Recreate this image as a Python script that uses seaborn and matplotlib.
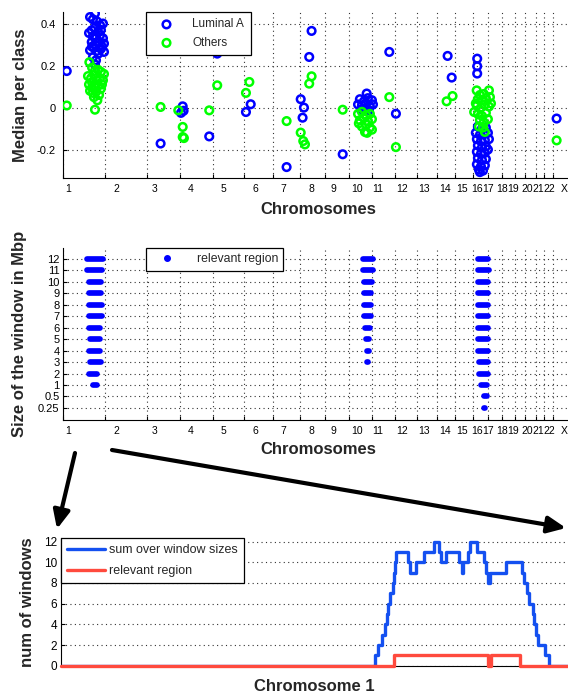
import numpy as np
import pandas as pd
import matplotlib
matplotlib.use("Agg")
import matplotlib.pyplot as plt
import seaborn as sns
from matplotlib.patches import FancyArrowPatch
from matplotlib.lines import Line2D
from matplotlib.ticker import FixedLocator, NullFormatter, FixedFormatter

# ---------------- data ----------------
chrom_names = ['1', '2', '3', '4', '5', '6', '7', '8', '9', '10', '11', '12', '13',
               '14', '15', '16', '17', '18', '19', '20', '21', '22', 'X']
chrom_len = [249.25, 243.20, 198.02, 191.15, 180.92, 171.12, 159.14, 146.36, 141.21,
             135.53, 135.01, 133.85, 115.17, 107.35, 102.53, 90.35, 81.20, 78.08,
             59.13, 63.03, 48.13, 51.30, 155.27]
chrom_label_pos = [29, 312, 541, 753, 941, 1129, 1294, 1464, 1588, 1729, 1852, 1993,
                   2123, 2246, 2346, 2434, 2499, 2581, 2646, 2728, 2793, 2858, 2946]

# Median per class (genome position in Mbp, median value)
lumA_pos = [22, 907, 574, 704, 709, 694, 860, 1076, 1104, 1315, 1462, 1448, 1398, 1417,
            1409, 1645, 1919, 1958, 2262, 2286, 2903,
            188, 159, 176, 200, 218, 235, 169, 188, 206, 223, 153, 176, 194, 218, 235,
            169, 188, 212, 241, 159, 182, 208, 223, 241, 176, 194, 188, 171, 200, 229,
            1786, 1746, 1770, 1793, 1817, 1735, 1758, 1782, 1805, 1823, 1752, 1776, 1799,
            2436, 2436, 2436,
            2440, 2464, 2487, 2428, 2452, 2475, 2499, 2434, 2458, 2481, 2505, 2440, 2464,
            2487, 2434, 2458, 2481, 2499, 2440, 2464, 2487, 2434, 2458, 2481, 2452, 2470,
            2446]
lumA_med = [0.174, 0.257, -0.171, 0.006, -0.015, -0.025, -0.137, -0.021, 0.016, -0.283,
            0.365, 0.241, 0.040, 0.000, -0.048, -0.222, 0.265, -0.029, 0.246, 0.143, -0.052,
            0.448, 0.431, 0.42, 0.41, 0.392, 0.40, 0.368, 0.38, 0.36, 0.37, 0.355, 0.34,
            0.33, 0.345, 0.33, 0.312, 0.30, 0.31, 0.305, 0.273, 0.285, 0.257, 0.28, 0.265,
            0.24, 0.225, 0.205, 0.29, 0.27, 0.29,
            0.067, 0.04, 0.03, 0.045, 0.035, 0.015, 0.01, 0.02, 0.005, 0.015, -0.01,
            -0.005, -0.012,
            0.233, 0.197, 0.162,
            -0.09, -0.10, -0.095, -0.12, -0.13, -0.125, -0.12, -0.15, -0.16, -0.155, -0.15,
            -0.18, -0.19, -0.185, -0.21, -0.22, -0.215, -0.20, -0.24, -0.25, -0.245, -0.27,
            -0.28, -0.275, -0.307, -0.30, -0.295]
others_pos = [22, 574, 678, 704, 704, 711, 860, 907, 1076, 1096, 1315, 1462, 1448, 1398,
              1413, 1423, 1645, 1919, 1958, 2256, 2291, 2903,
              155, 171, 188, 206, 223, 241, 147, 165, 182, 200, 218, 235, 153, 171, 188,
              206, 223, 159, 176, 194, 212, 202, 182, 188, 171, 229,
              1735, 1758, 1782, 1805, 1746, 1770, 1793, 1817, 1758, 1782, 1805, 1776, 1817,
              1740, 1788,
              2433, 2505, 2452, 2475, 2440, 2464, 2487, 2511, 2418, 2434, 2458, 2481, 2505,
              2440, 2464, 2487, 2452, 2475, 2499, 2446, 2470, 2481, 2428, 2517]
others_med = [0.010, 0.003, -0.013, -0.092, -0.140, -0.145, -0.013, 0.106, 0.070, 0.122,
              -0.064, 0.149, 0.114, -0.119, -0.159, -0.175, -0.010, 0.050, -0.188, 0.030,
              0.055, -0.156,
              0.216, 0.19, 0.175, 0.18, 0.17, 0.16, 0.15, 0.14, 0.155, 0.13, 0.14, 0.13,
              0.11, 0.12, 0.10, 0.105, 0.09, 0.08, 0.07, 0.075, 0.06, 0.035, 0.05, -0.01,
              0.095, 0.11,
              -0.03, -0.02, -0.035, -0.03, -0.06, -0.05, -0.065, -0.055, -0.09, -0.08,
              -0.095, -0.116, -0.105, -0.075, -0.12,
              0.082, 0.082, 0.06, 0.065, 0.04, 0.035, 0.045, 0.05, -0.021, 0.01, 0.0, 0.015,
              0.005, -0.03, -0.04, -0.025, -0.06, -0.07, -0.055, -0.09, -0.095, -0.116,
              0.02, 0.02]

# Relevant regions per window size (start / end in Mbp)
window_labels = ['0.25', '0.5', '1', '2', '3', '4', '5', '6', '7', '8', '9', '10', '11', '12']
reg1_rows = ['1', '2', '3', '4', '5', '6', '7', '8', '9', '10', '11', '12']
reg1_start = [178, 150, 158, 150, 158, 150, 150, 150, 150, 150, 144, 144]
reg1_end = [199, 199, 222, 219, 219, 219, 232, 232, 226, 226, 232, 238]
reg10_rows = ['1', '2', '3', '4', '5', '6', '7', '8', '9', '10', '11', '12']
reg10_start = [1791, 1791, 1785, 1785, 1781, 1775, 1772, 1768, 1768, 1768, 1762, 1762]
reg10_end = [1795, 1795, 1795, 1801, 1801, 1807, 1811, 1811, 1811, 1816, 1821, 1821]
reg16_rows = ['0.25', '0.5', '1', '2', '3', '4', '5', '6', '7', '8', '9', '10', '11', '12']
reg16_start = [2478, 2478, 2458, 2448, 2444, 2442, 2442, 2442, 2442, 2442, 2442, 2442, 2438, 2438]
reg16_end = [2481, 2493, 2493, 2497, 2497, 2501, 2501, 2501, 2501, 2501, 2501, 2501, 2507, 2501]

# Chromosome 1 detail (position in Mbp, number of windows, step-post)
sum_pos = [0, 154.2, 155.8, 157.5, 159.1, 160.0, 160.8, 161.6, 162.9, 163.7, 164.0, 164.5,
           170.6, 171.4, 174.4, 178.4, 183.3, 185.7, 186.6, 189.1, 195.6, 196.8, 197.6,
           199.8, 200.9, 204.2, 207.8, 208.7, 209.9, 210.7, 218.6, 226.3, 227.2, 228.9,
           229.9, 231.6, 232.3, 233.3, 234.3, 237.7, 239.7, 249.0]
sum_val = [0, 1, 2, 3, 4, 5, 6, 7, 8, 9, 10, 11,
           10, 9, 10, 11, 12, 11, 10, 11, 10, 9, 10,
           11, 12, 11, 10, 9, 8, 9, 10, 9, 8, 7,
           6, 5, 4, 3, 2, 1, 0, 0]
rel_pos = [0, 163.6, 209.9, 211.2, 225.4, 249.0]
rel_val = [0, 1, 0, 1, 0, 0]

# ---------------- style ----------------
sns.set_theme(style="white")
plt.rcParams['font.family'] = ['Liberation Sans', 'DejaVu Sans']

BLUE = '#0000ff'
GREEN = '#00ff00'
GRID = dict(color='0.2', linestyle=(0, (1, 3)), linewidth=0.8)

fig = plt.figure(figsize=(5.68, 6.94), dpi=100)
fig.patch.set_facecolor('white')

boundaries = np.concatenate([[0], np.cumsum(chrom_len)])


def style_axes(ax):
    for s in ['top', 'right']:
        ax.spines[s].set_visible(False)
    for s in ['left', 'bottom']:
        ax.spines[s].set_color('black')
        ax.spines[s].set_linewidth(0.8)
    ax.tick_params(axis='both', which='major', direction='in', length=3, width=0.8,
                   colors='black', labelsize=8, bottom=True, left=True)


def chrom_xaxis(ax):
    ax.set_xlim(0, 2970)
    ax.xaxis.set_major_locator(FixedLocator(boundaries))
    ax.xaxis.set_major_formatter(NullFormatter())
    ax.xaxis.set_minor_locator(FixedLocator(chrom_label_pos))
    ax.xaxis.set_minor_formatter(FixedFormatter(chrom_names))
    ax.tick_params(axis='x', which='minor', length=0, labelsize=7.5, pad=4.5,
                   bottom=True, colors='black')
    ax.grid(True, which='major', axis='both', **GRID)


def legend_frame(leg):
    fr = leg.get_frame()
    fr.set_edgecolor('black')
    fr.set_linewidth(0.9)
    fr.set_alpha(1)


# ---------------- top panel ----------------
ax1 = fig.add_axes([63 / 568, 1 - 178 / 694, 505 / 568, 166 / 694])
dfA = pd.DataFrame({'pos': lumA_pos, 'median': lumA_med})
dfO = pd.DataFrame({'pos': others_pos, 'median': others_med})
sns.scatterplot(data=dfA, x='pos', y='median', ax=ax1, color=BLUE, facecolor='none',
                edgecolor=BLUE, linewidth=1.8, s=30, label='Luminal A', zorder=3)
sns.scatterplot(data=dfO, x='pos', y='median', ax=ax1, color=GREEN, facecolor='none',
                edgecolor=GREEN, linewidth=1.8, s=30, label='Others', zorder=3)
style_axes(ax1)
chrom_xaxis(ax1)
ax1.set_ylim(-0.335, 0.455)
ax1.yaxis.set_major_locator(FixedLocator([-0.2, 0, 0.2, 0.4]))
ax1.yaxis.set_major_formatter(FixedFormatter(['-0.2', '0', '0.2', '0.4']))
ax1.tick_params(axis='y', pad=5)
ax1.set_xlabel('Chromosomes', fontsize=12, fontweight='bold', va='center')
ax1.xaxis.set_label_coords(0.505, -0.19)
ax1.set_ylabel('Median per class', fontsize=12, fontweight='bold', va='center')
ax1.yaxis.set_label_coords(-0.085, 0.5)
leg1 = ax1.legend(loc='upper left', bbox_to_anchor=(0.164, 1.0), fancybox=False,
                  framealpha=1, fontsize=8.5, borderpad=0.55, handlelength=2.4,
                  handletextpad=1.0, labelspacing=0.55, borderaxespad=0, scatterpoints=1)
legend_frame(leg1)

# ---------------- middle panel ----------------
ax2 = fig.add_axes([63 / 568, 1 - 420 / 694, 505 / 568, 172 / 694])
row_index = {lab: i for i, lab in enumerate(window_labels)}
for rows, starts, ends in [(reg1_rows, reg1_start, reg1_end),
                           (reg10_rows, reg10_start, reg10_end),
                           (reg16_rows, reg16_start, reg16_end)]:
    lc = ax2.hlines([row_index[r] for r in rows], starts, ends, colors=BLUE,
                    linewidth=4.1, zorder=3)
    lc.set_capstyle('round')
style_axes(ax2)
chrom_xaxis(ax2)
ax2.set_ylim(-1.05, 13.95)
ax2.yaxis.set_major_locator(FixedLocator(list(range(len(window_labels)))))
ax2.yaxis.set_major_formatter(FixedFormatter(window_labels))
ax2.tick_params(axis='y', pad=2.5, labelsize=8)
ax2.set_xlabel('Chromosomes', fontsize=12, fontweight='bold', va='center')
ax2.xaxis.set_label_coords(0.505, -0.1715)
ax2.set_ylabel('Size of the window in Mbp', fontsize=12, fontweight='bold', va='center')
ax2.yaxis.set_label_coords(-0.087, 0.5)
h2 = Line2D([], [], marker='o', linestyle='none', color=BLUE, markersize=4)
leg2 = ax2.legend([h2], ['relevant region'], loc='upper left', bbox_to_anchor=(0.164, 1.0),
                  fancybox=False, framealpha=1, fontsize=8.8, borderpad=0.45,
                  handlelength=2.6, handletextpad=1.1, borderaxespad=0)
legend_frame(leg2)

# ---------------- bottom panel ----------------
ax3 = fig.add_axes([61 / 568, 1 - 665.7 / 694, 1 - 61 / 568, 127.7 / 694])
sns.lineplot(x=sum_pos, y=sum_val, ax=ax3, color='#1450f0', linewidth=2.4,
             drawstyle='steps-post', estimator=None, sort=False,
             label='sum over window sizes', zorder=3)
sns.lineplot(x=rel_pos, y=rel_val, ax=ax3, color='#ff4a3d', linewidth=2.4,
             drawstyle='steps-post', estimator=None, sort=False,
             label='relevant region', zorder=4, clip_on=False)
style_axes(ax3)
ax3.set_xlim(0, 249)
ax3.set_ylim(0, 12.35)
ax3.xaxis.set_major_locator(FixedLocator([]))
ax3.yaxis.set_major_locator(FixedLocator([0, 2, 4, 6, 8, 10, 12]))
ax3.yaxis.set_major_formatter(FixedFormatter(['0', '2', '4', '6', '8', '10', '12']))
ax3.tick_params(axis='y', pad=3, labelsize=8.5)
ax3.grid(True, axis='y', **GRID)
ax3.set_xlabel('Chromosome 1', fontsize=12, fontweight='bold', va='center')
ax3.xaxis.set_label_coords(0.50, -0.159)
ax3.set_ylabel('num of windows', fontsize=12, fontweight='bold', va='center')
ax3.yaxis.set_label_coords(-0.067, 0.5)
leg3 = ax3.legend(loc='upper left', bbox_to_anchor=(0.0, 1.0), fancybox=False,
                  framealpha=1, fontsize=9, borderpad=0.5, handlelength=3.0,
                  handletextpad=0.35, labelspacing=0.7, borderaxespad=0)
legend_frame(leg3)

# ---------------- arrows ----------------
def px(x, y):
    return (x / 568, 1 - y / 694)

for a, b in [(px(75, 453), px(57, 529)), (px(112, 450), px(566, 528))]:
    arr = FancyArrowPatch(a, b, transform=fig.transFigure,
                          arrowstyle='-|>,head_length=1.1,head_width=0.5',
                          mutation_scale=10, linewidth=3, color='black',
                          shrinkA=0, shrinkB=0)
    fig.add_artist(arr)

fig.savefig('out.png', dpi=100)
